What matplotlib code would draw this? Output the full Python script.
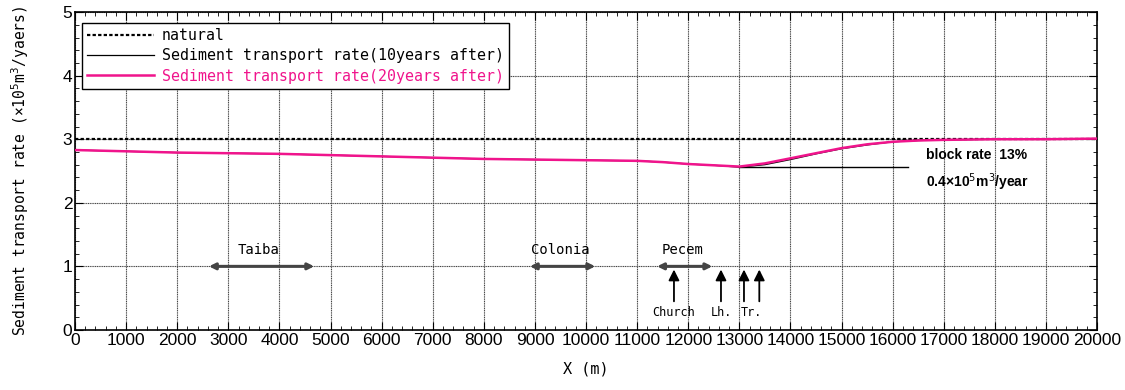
import numpy as np
import matplotlib
matplotlib.use("Agg")
import matplotlib.pyplot as plt
from matplotlib.ticker import MultipleLocator

# alongshore distance (m) and transport rates (x10^5 m3/year)
x_pos = [0, 1000, 2000, 3000, 4000, 5000, 6000, 7000, 8000, 9000, 10000,
         11000, 11500, 12000, 12500, 13000, 13500, 14000, 14500, 15000,
         15500, 16000, 16500, 17000, 18000, 19000, 20000]
rate_20y = [2.83, 2.81, 2.79, 2.78, 2.77, 2.75, 2.73, 2.71, 2.69, 2.68, 2.67,
            2.66, 2.64, 2.61, 2.59, 2.57, 2.62, 2.70, 2.78, 2.86,
            2.92, 2.96, 2.98, 2.99, 3.00, 3.00, 3.01]
rate_10y = [2.83, 2.81, 2.79, 2.78, 2.77, 2.75, 2.73, 2.71, 2.69, 2.68, 2.67,
            2.66, 2.64, 2.61, 2.59, 2.56, 2.60, 2.68, 2.77, 2.85,
            2.91, 2.96, 2.98, 2.99, 3.00, 3.00, 3.01]
natural_rate = 3.0

# coastal stretches (name, start, end)
stretches = [("Taiba", 2620, 4680), ("Colonia", 8900, 10180), ("Pecem", 11390, 12470)]
# structures marked with arrows (label, label x, arrow positions)
structures = [("Church", 11720, [11720]), ("Lh.", 12640, [12640]), ("Tr.", 13230, [13090, 13390])]

mono = "DejaVu Sans Mono"
plt.rcParams["font.family"] = "Liberation Sans"

fig = plt.figure(figsize=(11.25, 3.9), dpi=100)
ax = fig.add_axes([0.0667, 0.154, 0.9085, 0.815])

ax.plot([0, 20000], [natural_rate, natural_rate], color="black", linestyle=(0, (1.5, 1.0)),
        linewidth=1.6, label="natural", zorder=3)
ax.plot(x_pos, rate_10y, color="black", linewidth=0.9,
        label="Sediment transport rate(10years after)", zorder=3)
ax.plot(x_pos, rate_20y, color="#f0148c", linewidth=1.8,
        label="Sediment transport rate(20years after)", zorder=4)

ax.set_xlim(0, 20000)
ax.set_ylim(0, 5)
ax.xaxis.set_major_locator(MultipleLocator(1000))
ax.xaxis.set_minor_locator(MultipleLocator(200))
ax.yaxis.set_major_locator(MultipleLocator(1))
ax.yaxis.set_minor_locator(MultipleLocator(0.2))
ax.tick_params(which="both", direction="in", top=True, right=True, labelsize=12.5, pad=2)
ax.tick_params(which="major", length=6)
ax.tick_params(which="minor", length=3)
ax.grid(which="major", color="#444444", linestyle=(0, (1, 0.6)), linewidth=0.8)
for s in ax.spines.values():
    s.set_linewidth(1.2)

ax.set_xlabel("X (m)", fontsize=11, family=mono, labelpad=10)
ax.set_ylabel("Sediment transport rate (\u00d710$^5$m$^3$/yaers)", fontsize=10.5, family=mono)
ax.yaxis.set_label_coords(-0.043, 0.5)

# block rate annotation
x_min = x_pos[int(np.argmin(rate_20y))]
ax.plot([x_min, 16300], [min(rate_10y), min(rate_10y)], color="black", linewidth=1.0, zorder=2)
ax.text(16650, 2.75, "block rate  13%", fontsize=10, fontweight="bold", va="center")
ax.text(16650, 2.32, "0.4\u00d710$^5$m$^3$/year", fontsize=10, fontweight="bold", va="center")

# stretch extents
for name, x0, x1 in stretches:
    ax.annotate("", xy=(x0, 1.0), xytext=(x1, 1.0),
                arrowprops=dict(arrowstyle="<|-|>", color="#444444", lw=2.2,
                                mutation_scale=9, shrinkA=0, shrinkB=0))
    ax.text((x0 + x1) / 2 - 50, 1.14, name, fontsize=10, family=mono, ha="center", va="bottom")

# structure arrows
for label, xl, xs in structures:
    for xv in xs:
        ax.annotate("", xy=(xv, 0.95), xytext=(xv, 0.45),
                    arrowprops=dict(arrowstyle="-|>", color="black", lw=1.3,
                                    mutation_scale=16, shrinkA=0, shrinkB=0))
    ax.text(xl, 0.27, label, fontsize=8.5, family=mono, ha="center", va="center")

leg = ax.legend(loc="upper left", bbox_to_anchor=(0.004, 0.975),
                prop={"family": mono, "size": 10.7}, fancybox=False, framealpha=1,
                edgecolor="black", handlelength=4.5, borderpad=0.35, labelspacing=0.35,
                handletextpad=0.5, borderaxespad=0.2)
leg.get_frame().set_linewidth(1.0)
leg.get_texts()[2].set_color("#f0148c")

fig.savefig("out.png", dpi=100)
